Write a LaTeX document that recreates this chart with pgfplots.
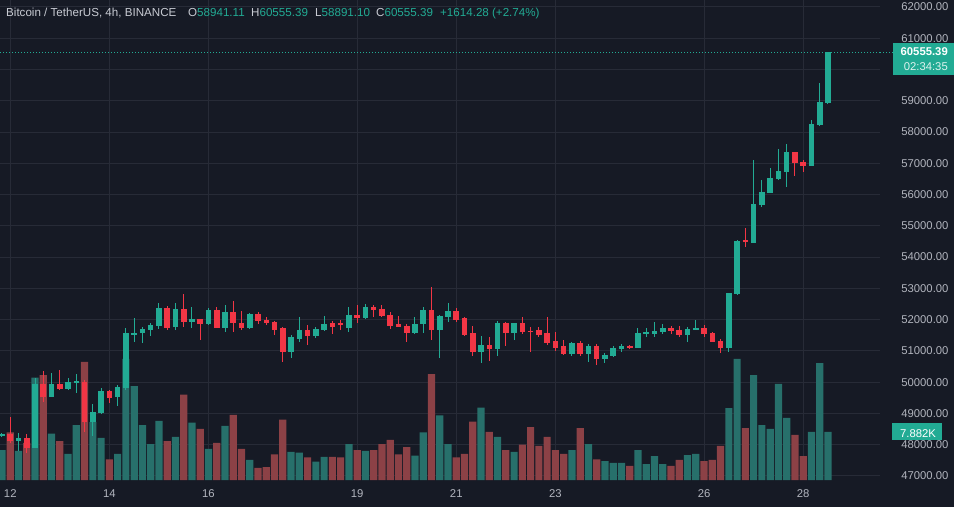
\documentclass[border=0pt]{standalone}
\usepackage{pgfplots}
\pgfplotsset{compat=1.18}
\usepackage{pgfplotstable}
\usetikzlibrary{backgrounds}
\usepackage{fontspec}
\setmainfont{Liberation Sans}

\definecolor{bg}{HTML}{161A25}
\definecolor{gridc}{HTML}{272B37}
\definecolor{txt}{HTML}{B2B5BE}
\definecolor{ttl}{HTML}{C8CBD3}
\definecolor{upc}{HTML}{22AB94}
\definecolor{dnc}{HTML}{F23645}
\definecolor{volup}{HTML}{27706B}
\definecolor{voldn}{HTML}{8C4146}

% BTCUSDT 4h candles, i = candle index, v = volume in K
\pgfplotstableread{
i o h l c v
0 48300 48380 48250 48334 4.9
1 48334 48877 48046 48120 7.8
2 48120 48385 47810 48216 4.8
3 48206 48343 47726 47905 6.1
4 47905 50124 47884 49942 16.8
5 49942 50370 49375 49517 17.2
6 49537 50303 49517 49942 7.6
7 49942 50390 49750 49782 6.4
8 49782 50143 49750 50006 4.3
9 50006 50262 49645 50020 9.0
10 50016 50070 48417 48737 19.4
11 48737 49293 48279 49037 9.5
12 49005 49805 48990 49728 6.9
13 49718 49750 49344 49494 3.4
14 49517 49910 49239 49856 4.3
15 49805 51723 49750 51583 19.9
16 51510 52063 51285 51583 15.4
17 51583 51775 51241 51701 9.0
18 51669 51903 51477 51829 5.9
19 51797 52542 51691 52383 9.7
20 52383 52437 51669 51743 6.4
21 51775 52542 51669 52330 7.1
22 52330 52820 51775 51935 14.0
23 51935 52395 51723 52021 9.4
24 52011 52021 51349 51861 8.4
25 51861 52362 51829 52309 5.1
26 52309 52395 51720 51743 6.1
27 51743 52469 51595 52255 8.9
28 52255 52600 51615 51882 10.7
29 51903 52287 51669 51723 5.1
30 51723 52222 51691 52171 3.3
31 52171 52235 51861 51957 2.0
32 51989 52075 51818 51882 2.1
33 51935 51950 51509 51669 4.2
34 51723 51775 50655 50975 9.9
35 50975 51509 50762 51436 4.6
36 51372 52075 51295 51669 4.5
37 51669 51829 51189 51477 3.7
38 51477 51775 51407 51691 3.0
39 51669 52117 51650 51861 3.8
40 51882 51967 51541 51775 3.8
41 51882 51989 51669 51829 3.7
42 51743 52416 51615 52149 5.9
43 52149 52469 51903 52063 4.9
44 52043 52501 52011 52395 4.8
45 52395 52469 52095 52309 4.9
46 52330 52469 52075 52117 5.9
47 52149 52235 51691 51797 6.6
48 51850 52117 51754 51775 4.2
49 51797 51861 51295 51583 5.4
50 51562 52075 51541 51861 4.0
51 51850 52416 51562 52309 7.8
52 52309 53035 51349 51669 17.4
53 51669 52149 50762 52127 10.6
54 52075 52542 51935 52277 5.9
55 52277 52362 51935 51989 3.7
56 52043 52075 51477 51509 4.3
57 51583 51797 50838 50975 9.6
58 50975 51477 50623 51189 11.9
59 51189 51436 50687 51052 7.9
60 51052 51967 50838 51882 7.1
61 51882 51935 51157 51583 4.9
62 51583 51903 51349 51882 4.6
63 51882 52075 51541 51595 5.8
64 51647 51775 50975 51605 8.7
65 51669 51775 51436 51509 5.6
66 51562 52096 51189 51263 7.1
67 51327 51615 51007 51084 4.9
68 51148 51349 50870 50902 4.3
69 50902 51295 50838 51263 4.9
70 51263 51327 50838 50902 8.5
71 50902 51231 50655 51148 5.9
72 51148 51231 50550 50742 3.4
73 50742 50943 50602 50870 3.1
74 50838 51157 50817 51084 2.8
75 51062 51231 50975 51148 2.8
76 51167 51189 51052 51094 2.3
77 51104 51723 51084 51583 4.9
78 51562 51723 51455 51615 2.6
79 51541 51935 51455 51647 3.9
80 51595 51850 51541 51743 2.6
81 51743 51797 51541 51637 2.3
82 51669 51797 51455 51509 3.3
83 51509 51775 51274 51701 4.1
84 51679 51989 51660 51723 4.3
85 51723 51829 51436 51541 3.1
86 51583 51615 51274 51295 3.3
87 51317 51372 50943 51084 5.6
88 51084 52853 50975 52842 11.8
89 52820 54540 52800 54515 19.9
90 54547 54921 54312 54473 8.5
91 54461 57106 54440 55699 17.2
92 55667 56467 55592 56073 9.0
93 56060 56841 56040 56521 8.4
94 56499 57449 56467 56755 15.8
95 56733 57609 56233 57354 10.2
96 57354 57370 56595 57021 7.4
97 57053 57106 56712 56925 3.9
98 56925 58385 56910 58258 7.9
99 58226 59559 58194 58962 19.2
100 58941.11 60555.39 58891.10 60555.39 7.882
}\btc

\pgfplotsset{
  isup/.style={x filter/.expression={\thisrow{c}>=\thisrow{o} ? x : nan}},
  isdn/.style={x filter/.expression={\thisrow{c}<\thisrow{o} ? x : nan}},
  wick/.style={draw=none, mark=none, error bars/.cd, y dir=both, y explicit, error mark=none,
    error bar style={draw=#1, line width=1pt}},
  body/.style={draw=none, mark=none, error bars/.cd, y dir=both, y explicit, error mark=none,
    error bar style={draw=#1, line width=5.6pt}},
}

\begin{document}
\begin{tikzpicture}
\begin{axis}[name=base, scale only axis,
    width=880pt, height=480pt, xmin=-0.242, xmax=106.3,
    ymin=46872, ymax=62222,
    axis line style={draw=none}, major tick length=0pt,
    xtick={1,13,25,43,55,67,85,97},
    xticklabels={12,14,16,19,21,23,26,28},
    ytick={47000,48000,...,62000},
    yticklabels={47000.00,48000.00,49000.00,50000.00,51000.00,52000.00,53000.00,54000.00,55000.00,56000.00,57000.00,58000.00,59000.00,{},61000.00,62000.00},
    grid=major, major grid style={draw=gridc, line width=1pt},
    yticklabel pos=right,
    ticklabel style={font=\fontsize{11.3}{13}\selectfont, text=txt},
    yticklabel style={anchor=east, xshift=72pt},
    xticklabel style={anchor=base, yshift=-17pt},
  ]
  % volume pane: 1K = 194.8 price units above the bottom edge
  \addplot[ybar, bar width=7.2pt, bar shift=0pt, fill=volup, draw=none, isup]
    table[x=i, y expr=46872+194.8*\thisrow{v}] {\btc};
  \addplot[ybar, bar width=7.2pt, bar shift=0pt, fill=voldn, draw=none, isdn]
    table[x=i, y expr=46872+194.8*\thisrow{v}] {\btc};
  % last price line
  \addplot[upc, line width=0.9pt, dash pattern=on 1pt off 2pt] coordinates {(-0.242,60555.39) (106.3,60555.39)};
  % candles
  \addplot[isup, wick=upc] table[x=i, y expr=(\thisrow{h}+\thisrow{l})/2, y error expr=(\thisrow{h}-\thisrow{l})/2] {\btc};
  \addplot[isdn, wick=dnc] table[x=i, y expr=(\thisrow{h}+\thisrow{l})/2, y error expr=(\thisrow{h}-\thisrow{l})/2] {\btc};
  \addplot[isup, body=upc] table[x=i, y expr=(\thisrow{o}+\thisrow{c})/2, y error expr={max(abs(\thisrow{c}-\thisrow{o})/2,16)}] {\btc};
  \addplot[isdn, body=dnc] table[x=i, y expr=(\thisrow{o}+\thisrow{c})/2, y error expr={max(abs(\thisrow{c}-\thisrow{o})/2,16)}] {\btc};
\end{axis}

% header line
\begin{scope}[every node/.style={anchor=base west, inner sep=0pt, font=\fontsize{11.6}{13}\selectfont}]
  \node[text=ttl] at ([shift={(6pt,-17pt)}]base.north west) {Bitcoin / TetherUS, 4h, BINANCE};
  \node at ([shift={(188pt,-17pt)}]base.north west) {\textcolor{ttl}{O}\textcolor{upc}{58941.11}};
  \node at ([shift={(251pt,-17pt)}]base.north west) {\textcolor{ttl}{H}\textcolor{upc}{60555.39}};
  \node at ([shift={(315pt,-17pt)}]base.north west) {\textcolor{ttl}{L}\textcolor{upc}{58891.10}};
  \node at ([shift={(376pt,-17pt)}]base.north west) {\textcolor{ttl}{C}\textcolor{upc}{60555.39}};
  \node[text=upc] at ([shift={(440pt,-17pt)}]base.north west) {+1614.28 (+2.74\%)};
\end{scope}

% last price and volume labels
\draw[upc, line width=0.9pt, dash pattern=on 1pt off 2pt] ([shift={(880pt,-52.1pt)}]base.north west) -- ++(13pt,0);
\fill[upc] ([shift={(893pt,-43pt)}]base.north west) rectangle ([shift={(954pt,-75pt)}]base.north west);
\node[anchor=base east, inner sep=0pt, text=white, font=\fontsize{11.3}{13}\selectfont\bfseries] at ([shift={(948pt,-55.7pt)}]base.north west) {60555.39};
\node[anchor=base east, inner sep=0pt, text=white!85!upc, font=\fontsize{11.3}{13}\selectfont] at ([shift={(948pt,-71pt)}]base.north west) {02:34:35};
\fill[upc] ([shift={(892pt,-423pt)}]base.north west) rectangle ([shift={(942pt,-440pt)}]base.north west);
\node[anchor=base west, inner sep=0pt, text=white, font=\fontsize{11.3}{13}\selectfont] at ([shift={(900pt,-437.5pt)}]base.north west) {7.882K};

\begin{pgfonlayer}{background}
\fill[bg] ([yshift=-27pt]base.south west) rectangle ++(954pt,507pt);
\end{pgfonlayer}
\pgfresetboundingbox
\useasboundingbox ([yshift=-27pt]base.south west) rectangle ++(954pt,507pt);
\end{tikzpicture}
\end{document}
